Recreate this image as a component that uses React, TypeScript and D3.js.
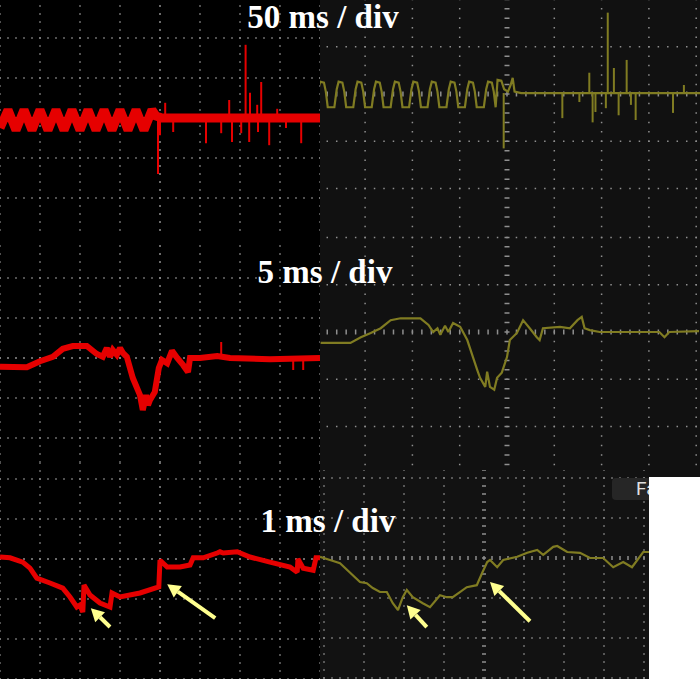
import React from "react";
import * as d3 from "d3";

type Pt = [number, number];
type Arrow = [number, number, number, number];

// all values are in screen divisions, measured from the centre of each capture

// 50 ms / div, left capture (red)
const slowRedTrace: Pt[] = [
  [-4.0, -0.25], [-3.8, 0.2], [-3.6, -0.3], [-3.4, 0.2], [-3.2, -0.3], [-3.0, 0.2],
  [-2.8, -0.3], [-2.6, 0.2], [-2.4, -0.3], [-2.2, 0.2], [-2.0, -0.3], [-1.8, 0.2],
  [-1.6, -0.3], [-1.4, 0.2], [-1.2, -0.3], [-1.0, 0.2], [-0.8, -0.3], [-0.6, 0.2],
  [-0.4, -0.3], [-0.2, 0.2], [-0.1, 0.05], [0.05, 0.0], [4.0, 0.0],
];
const slowRedSpikes: Pt[] = [
  [-0.05, -1.4], [0.0, -0.43], [0.13, 0.38], [0.33, -0.35], [1.15, -0.63], [1.53, -0.38],
  [1.73, 0.45], [1.8, -0.6], [2.03, -0.38], [2.14, 1.83], [2.23, -0.6], [2.25, 0.63],
  [2.43, 0.33], [2.45, -0.35], [2.53, 0.9], [2.73, -0.68], [2.93, 0.23], [3.15, -0.25],
  [3.53, -0.63],
];

// 50 ms / div, right capture (olive)
const slowOliveTrace: Pt[] = [
  [-4.04, -0.28], [-3.99, 0.1], [-3.95, 0.26], [-3.87, 0.24], [-3.83, 0.05], [-3.79, -0.28],
  [-3.65, -0.28], [-3.6, 0.1], [-3.56, 0.26], [-3.48, 0.24], [-3.44, 0.05], [-3.4, -0.28],
  [-3.25, -0.28], [-3.2, 0.1], [-3.16, 0.26], [-3.08, 0.24], [-3.04, 0.05], [-3.0, -0.28],
  [-2.86, -0.28], [-2.81, 0.1], [-2.77, 0.26], [-2.69, 0.24], [-2.65, 0.05], [-2.61, -0.28],
  [-2.46, -0.28], [-2.41, 0.1], [-2.37, 0.26], [-2.29, 0.24], [-2.25, 0.05], [-2.21, -0.28],
  [-2.07, -0.28], [-2.02, 0.1], [-1.98, 0.26], [-1.9, 0.24], [-1.86, 0.05], [-1.82, -0.28],
  [-1.68, -0.28], [-1.63, 0.1], [-1.59, 0.26], [-1.51, 0.24], [-1.47, 0.05], [-1.43, -0.28],
  [-1.28, -0.28], [-1.23, 0.1], [-1.19, 0.26], [-1.11, 0.24], [-1.07, 0.05], [-1.03, -0.28],
  [-0.89, -0.28], [-0.84, 0.1], [-0.8, 0.26], [-0.72, 0.24], [-0.68, 0.05], [-0.64, -0.28],
  [-0.49, -0.28], [-0.44, 0.1], [-0.4, 0.26], [-0.32, 0.24], [-0.28, 0.05], [-0.24, -0.28],
  [-0.2, 0.3], [-0.12, 0.28], [-0.06, 0.1], [0.02, 0.05], [0.08, 0.2], [0.12, 0.34],
  [0.16, 0.05], [0.3, 0.02], [4.1, 0.02],
];
const slowOliveSpikes: Pt[] = [
  [-0.07, -1.15], [1.17, -0.51], [1.53, -0.17], [1.74, 0.45], [1.81, -0.6], [1.87, -0.38],
  [2.09, -0.3], [2.13, 1.72], [2.26, 0.55], [2.36, -0.45], [2.53, 0.72], [2.62, -0.23],
  [2.72, -0.55], [3.51, -0.4], [3.74, 0.19],
];

// 5 ms / div
const midRedTrace: Pt[] = [
  [-4.0, -0.22], [-3.33, -0.23], [-3.0, -0.08], [-2.68, 0.03], [-2.43, 0.23], [-2.18, 0.3],
  [-1.83, 0.3], [-1.58, 0.1], [-1.43, 0.03], [-1.33, 0.25], [-1.25, 0.03], [-1.18, 0.2],
  [-1.08, 0.08], [-1.0, 0.25], [-0.93, 0.13], [-0.83, 0.03], [-0.68, -0.5], [-0.5, -0.93],
  [-0.43, -1.3], [-0.35, -0.93], [-0.3, -1.18], [-0.25, -1.05], [-0.13, -0.85], [-0.03, -0.25],
  [0.05, -0.05], [0.18, -0.13], [0.3, 0.18], [0.43, 0.0], [0.58, -0.18], [0.7, -0.35],
  [0.75, 0.0], [1.0, 0.0], [1.43, 0.05], [1.75, 0.0], [2.75, -0.03], [4.0, 0.0],
];
const midRedSpikes: Pt[] = [[1.53, 0.4], [3.33, -0.3], [3.58, -0.3]];

const midOliveTrace: Pt[] = [
  [-3.94, -0.23], [-3.31, -0.23], [-3.09, -0.11], [-2.88, -0.02], [-2.67, 0.08], [-2.46, 0.25],
  [-2.25, 0.29], [-2.04, 0.29], [-1.83, 0.29], [-1.66, 0.15], [-1.56, 0.0], [-1.47, 0.08],
  [-1.41, -0.06], [-1.31, 0.13], [-1.24, 0.0], [-1.14, 0.19], [-0.99, 0.11], [-0.84, -0.17],
  [-0.72, -0.53], [-0.63, -0.8], [-0.57, -0.97], [-0.46, -1.16], [-0.42, -0.84], [-0.36, -1.16],
  [-0.27, -1.22], [-0.21, -0.97], [-0.11, -0.86], [0.0, -0.53], [0.06, -0.17], [0.21, -0.02],
  [0.34, 0.25], [0.48, 0.08], [0.63, -0.11], [0.69, -0.17], [0.76, 0.08], [1.12, 0.11],
  [1.33, 0.08], [1.49, 0.25], [1.58, 0.32], [1.64, 0.08], [1.75, 0.04], [1.96, 0.0],
  [3.22, 0.0], [3.33, -0.11], [3.43, 0.0], [4.06, 0.02],
];

// 1 ms / div
const fastRedTrace: Pt[] = [
  [-4.0, 0.05], [-3.75, 0.03], [-3.43, -0.08], [-3.25, -0.23], [-3.08, -0.48], [-2.75, -0.6],
  [-2.43, -0.73], [-2.25, -0.95], [-2.08, -1.2], [-2.0, -1.15], [-1.93, -1.33], [-1.9, -0.65],
  [-1.75, -0.9], [-1.5, -1.1], [-1.25, -1.2], [-1.2, -0.85], [-1.0, -0.95], [-0.5, -0.85],
  [-0.03, -0.7], [0.0, -0.03], [0.18, -0.2], [0.5, -0.2], [0.75, -0.15], [0.83, 0.03],
  [1.08, 0.03], [1.43, 0.15], [1.5, 0.18], [1.58, 0.15], [1.93, 0.18], [2.25, 0.05],
  [2.75, -0.08], [3.25, -0.2], [3.43, -0.33], [3.45, 0.0], [3.58, -0.23], [3.83, -0.28],
  [3.9, 0.03], [4.0, 0.03],
];
const fastRedArrows: Arrow[] = [[-1.25, -1.7, -1.73, -1.23], [1.38, -1.48, 0.18, -0.63]];

const fastOliveTrace: Pt[] = [
  [-4.1, 0.03], [-3.85, -0.05], [-3.6, -0.13], [-3.1, -0.6], [-2.93, -0.63], [-2.78, -0.75],
  [-2.6, -0.85], [-2.43, -0.85], [-2.28, -1.13], [-2.15, -1.3], [-2.03, -0.98], [-1.93, -0.8],
  [-1.78, -0.98], [-1.53, -1.13], [-1.35, -1.23], [-1.1, -0.93], [-0.93, -0.98], [-0.78, -0.98],
  [-0.43, -0.73], [-0.18, -0.68], [-0.05, -0.38], [0.08, -0.1], [0.15, -0.05], [0.33, -0.23],
  [0.48, -0.05], [0.83, 0.03], [1.08, 0.13], [1.33, 0.2], [1.48, 0.08], [1.73, 0.28],
  [1.83, 0.3], [2.08, 0.15], [2.4, 0.13], [2.65, 0.0], [2.98, 0.0], [3.23, -0.23],
  [3.48, -0.1], [3.7, -0.23], [3.98, 0.15], [4.15, 0.15],
];
const fastOliveArrows: Arrow[] = [[-1.43, -1.73, -1.93, -1.18], [1.15, -1.58, 0.15, -0.6]];

const titles = ["50 ms / div", "5 ms / div", "1 ms / div"];

const RED = "#e60000";
const OLIVE = "#807c22";
const ARROW = "#ffff8f";

type Box = { x: number; y: number; w: number; h: number };

const ArrowMark = ({ a, x, y }: { a: Arrow; x: any; y: any }) => {
  const x1 = x(a[0]), y1 = y(a[1]), x2 = x(a[2]), y2 = y(a[3]);
  const ang = Math.atan2(y2 - y1, x2 - x1);
  const hl = 13, hw = 7;
  const bx = x2 - hl * Math.cos(ang), by = y2 - hl * Math.sin(ang);
  const px = -Math.sin(ang) * hw, py = Math.cos(ang) * hw;
  return (
    <g>
      <line x1={x1} y1={y1} x2={bx} y2={by} stroke={ARROW} strokeWidth={4} />
      <polygon points={`${x2},${y2} ${bx + px},${by + py} ${bx - px},${by - py}`} fill={ARROW} />
    </g>
  );
};

const Panel = (props: {
  id: string; box: Box; cx: number; cy: number; div: number; bg: string; grid: string;
  color: string; width: number; trace: Pt[]; spikes?: Pt[]; base?: number; arrows?: Arrow[];
  tick: number;
}) => {
  const { id, box, cx, cy, div, bg, grid, color, width, trace, spikes = [], base = 0, arrows = [], tick } = props;
  const x = d3.scaleLinear().domain([0, 1]).range([cx, cx + div]);
  const y = d3.scaleLinear().domain([0, 1]).range([cy, cy - div]);
  const line = d3.line<Pt>().x(d => x(d[0])).y(d => y(d[1]));
  const step = div / 5;
  const cols = d3.range(Math.ceil(x.invert(box.x)), Math.floor(x.invert(box.x + box.w)) + 1);
  const rows = d3.range(Math.ceil(y.invert(box.y + box.h)), Math.floor(y.invert(box.y)) + 1);
  const top = y(Math.floor(y.invert(box.y)) + 1);
  const left = x(Math.ceil(x.invert(box.x)) - 1);
  const dash = `1.5 ${step - 1.5}`;
  return (
    <g>
      <clipPath id={id}>
        <rect x={box.x} y={box.y} width={box.w} height={box.h} />
      </clipPath>
      <g clipPath={`url(#${id})`}>
        <rect x={box.x} y={box.y} width={box.w} height={box.h} fill={bg} />
        {cols.map(c => (
          <line key={"c" + c} x1={x(c)} x2={x(c)} y1={top} y2={box.y + box.h}
            stroke={grid} strokeWidth={c === 0 ? tick : 1.5} strokeDasharray={dash} strokeDashoffset={0.75} />
        ))}
        {rows.map(r => (
          <line key={"r" + r} y1={y(r)} y2={y(r)} x1={left} x2={box.x + box.w}
            stroke={grid} strokeWidth={r === 0 ? tick : 1.5} strokeDasharray={dash} strokeDashoffset={0.75} />
        ))}
        {spikes.map((s, i) => (
          <line key={"s" + i} x1={x(s[0])} x2={x(s[0])} y1={y(base)} y2={y(s[1])}
            stroke={color} strokeWidth={2} />
        ))}
        <path d={line(trace) || ""} fill="none" stroke={color} strokeWidth={width}
          strokeLinejoin="miter" strokeMiterlimit={2} />
        {arrows.map((a, i) => <ArrowMark key={"a" + i} a={a} x={x} y={y} />)}
      </g>
    </g>
  );
};

const App = () => {
  const W = 700, H = 679;
  const titleY = [28, 283, 532];
  const titleX = [323, 325, 328];
  return (
    <svg width={W} height={H} style={{ position: "absolute", left: 0, top: 0 }}>
      <rect x={0} y={0} width={320} height={H} fill="#000" />
      <rect x={320} y={0} width={380} height={H} fill="#111" />

      <Panel id="p1" box={{ x: 0, y: 0, w: 320, h: 234 }} cx={160} cy={118} div={40}
        bg="#000" grid="#8f8f8f" color={RED} width={9} trace={slowRedTrace} spikes={slowRedSpikes} tick={2} />
      <Panel id="p2" box={{ x: 320, y: 0, w: 380, h: 232 }} cx={507} cy={94} div={47.3}
        bg="#111" grid="#8f8f8f" color={OLIVE} width={2.2} trace={slowOliveTrace}
        spikes={slowOliveSpikes} base={0.02} tick={5} />
      <Panel id="p3" box={{ x: 0, y: 240, w: 320, h: 222 }} cx={160} cy={358} div={40}
        bg="#000" grid="#8f8f8f" color={RED} width={6} trace={midRedTrace} spikes={midRedSpikes} tick={2} />
      <Panel id="p4" box={{ x: 320, y: 232, w: 380, h: 238 }} cx={507} cy={332} div={47.3}
        bg="#111" grid="#8f8f8f" color={OLIVE} width={2.2} trace={midOliveTrace} tick={5} />
      <Panel id="p5" box={{ x: 0, y: 462, w: 320, h: 217 }} cx={160} cy={559} div={40}
        bg="#000" grid="#8f8f8f" color={RED} width={5} trace={fastRedTrace} arrows={fastRedArrows} tick={2} />
      <Panel id="p6" box={{ x: 320, y: 470, w: 330, h: 209 }} cx={484} cy={558} div={40}
        bg="#121212" grid="#8f8f8f" color={OLIVE} width={2.2} trace={fastOliveTrace}
        arrows={fastOliveArrows} tick={4} />

      <rect x={612} y={478} width={50} height={22} rx={4} fill="#262626" />
      <text x={636} y={495} fill="#e0e0e0" fontFamily="Roboto, 'Liberation Sans', sans-serif" fontSize={19}>Fa</text>
      <rect x={649} y={477} width={51} height={H - 477} fill="#fff" />

      {titles.map((t, i) => (
        <text key={t} x={titleX[i]} y={titleY[i]} textAnchor="middle" fill="#fff"
          fontFamily="'Liberation Serif', 'Times New Roman', serif" fontWeight="bold" fontSize={33}>
          {t}
        </text>
      ))}
    </svg>
  );
};

export default App;
